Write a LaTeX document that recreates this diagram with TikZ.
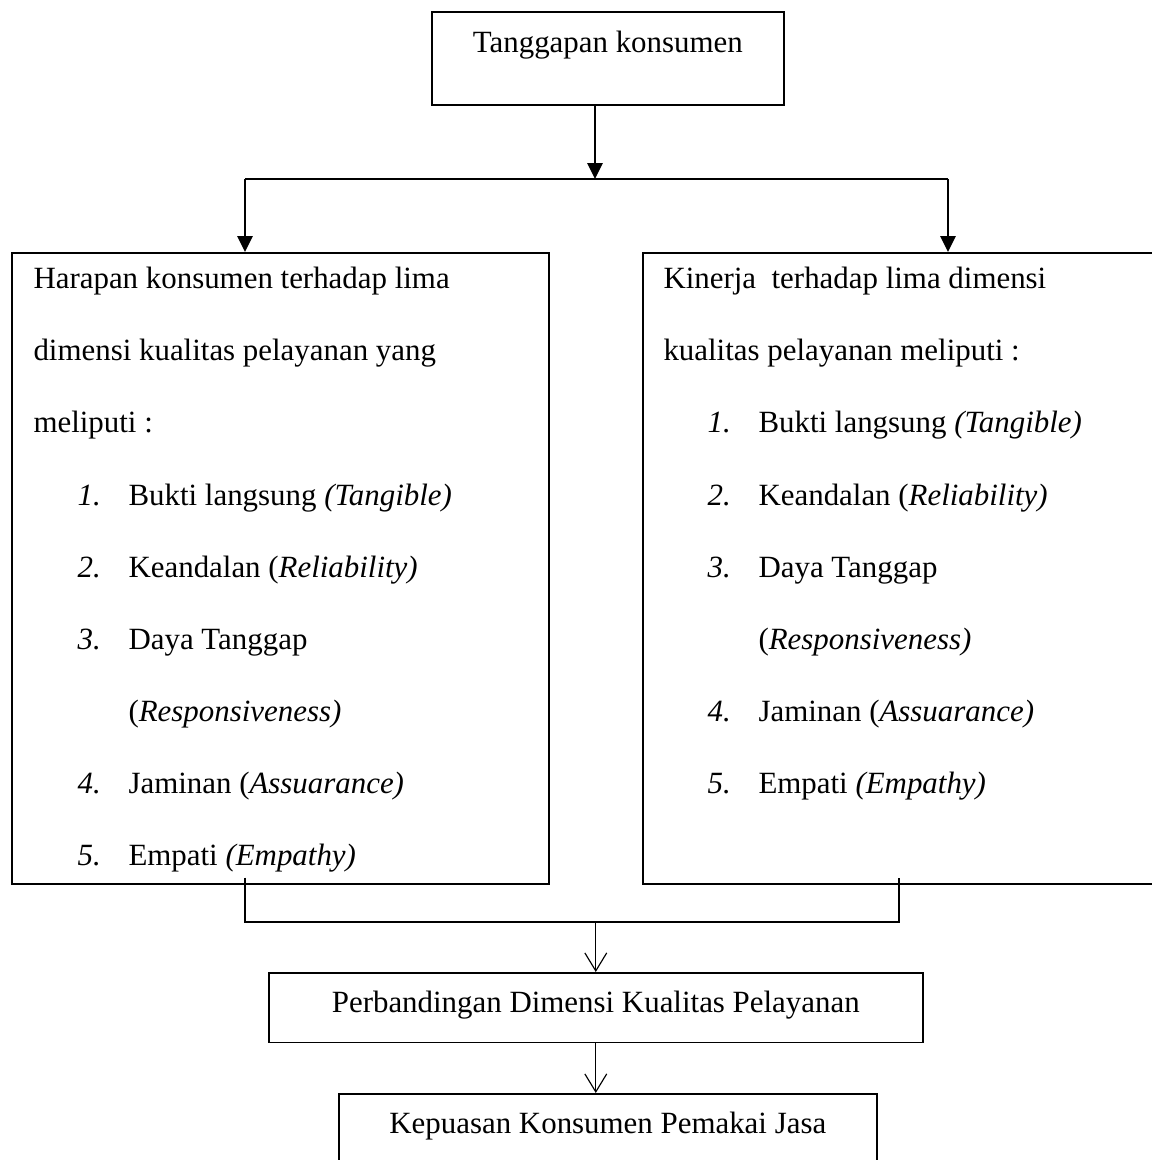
\documentclass[tikz,border=0pt]{standalone}
\usepackage{fontspec}
\setmainfont{Liberation Serif}
\usetikzlibrary{arrows.meta,positioning,calc}

\newcommand{\butir}[2]{\hspace*{17.1pt}\makebox[19.8pt][l]{\textit{#1.}}#2}
\newcommand{\lanjut}[1]{\hspace*{36.9pt}#1}

\tikzset{
  kotak/.style={draw,line width=0.65pt,inner sep=0pt,align=center,anchor=north west},
  isi/.style={draw=none,inner sep=0pt,align=left,anchor=north west},
  panah/.style={line width=0.6pt,-{Triangle[width=6pt,length=6.2pt]}},
  garis/.style={line width=0.5pt},
  panahbuka/.style={line width=0.45pt,-{Straight Barb[width=8.5pt,length=7pt]}}
}

\begin{document}
\begin{tikzpicture}[x=0.3883pt,y=-0.3883pt,font=\fontsize{12}{28}\selectfont]
\useasboundingbox (0,0) rectangle (1151,1160);
\node [kotak,minimum width=136.7pt,text height=15.9pt,text depth=20.2pt] (Tanggapan) at (431,11) {Tanggapan konsumen};
\node [kotak,minimum width=208.5pt,minimum height=245pt] (Harapan) at (11,252) {};
\node [isi] (HarapanIsi) at ($(Harapan.north west)+(22,14.8)$) {Harapan konsumen terhadap lima\\dimensi kualitas pelayanan yang\\meliputi :\\\butir{1}{Bukti langsung \textit{(Tangible)}}\\\butir{2}{Keandalan (\textit{Reliability)}}\\\butir{3}{Daya Tanggap}\\\lanjut{(\textit{Responsiveness)}}\\\butir{4}{Jaminan (\textit{Assuarance)}}\\\butir{5}{Empati \textit{(Empathy)}}};
\node [kotak,minimum width=205pt,minimum height=245pt] (Kinerja) at (642,252) {};
\node [isi] (KinerjaIsi) at ($(Kinerja.north west)+(21,14.8)$) {Kinerja\ \ terhadap lima dimensi\\kualitas pelayanan meliputi :\\\butir{1}{Bukti langsung \textit{(Tangible)}}\\\butir{2}{Keandalan (\textit{Reliability)}}\\\butir{3}{Daya Tanggap}\\\lanjut{(\textit{Responsiveness)}}\\\butir{4}{Jaminan (\textit{Assuarance)}}\\\butir{5}{Empati \textit{(Empathy)}}};
\node [kotak,minimum width=253.9pt,text height=15.5pt,text depth=11.6pt] (Perbandingan) at (268,972) {Perbandingan Dimensi Kualitas Pelayanan};
\node [kotak,minimum width=208.9pt,text height=15.5pt,text depth=12.4pt] (Kepuasan) at (338,1093) {Kepuasan Konsumen Pemakai Jasa};
% percabangan atas
\coordinate (Cabang) at (595,179);
\coordinate (CabangKiri) at (245,179);
\coordinate (CabangKanan) at (948,179);
\draw [panah] (Cabang |- Tanggapan.south) -- (Cabang);
\draw [line width=0.6pt] (CabangKiri) -- (CabangKanan);
\draw [panah] (CabangKiri) -- (CabangKiri |- Harapan.north);
\draw [panah] (CabangKanan) -- (CabangKanan |- Kinerja.north);
% penggabungan bawah
\coordinate (GabungKiri) at (245,922);
\coordinate (GabungKanan) at (899,922);
\draw [garis] ($(GabungKiri |- Harapan.south)+(0,-7)$) -- (GabungKiri) -- (GabungKanan) -- ($(GabungKanan |- Kinerja.south)+(0,-7)$);
\draw [panahbuka] (Perbandingan.north |- GabungKiri) -- (Perbandingan.north);
\draw [panahbuka] (Perbandingan.south) -- (Perbandingan.south |- Kepuasan.north);
\end{tikzpicture}
\end{document}
